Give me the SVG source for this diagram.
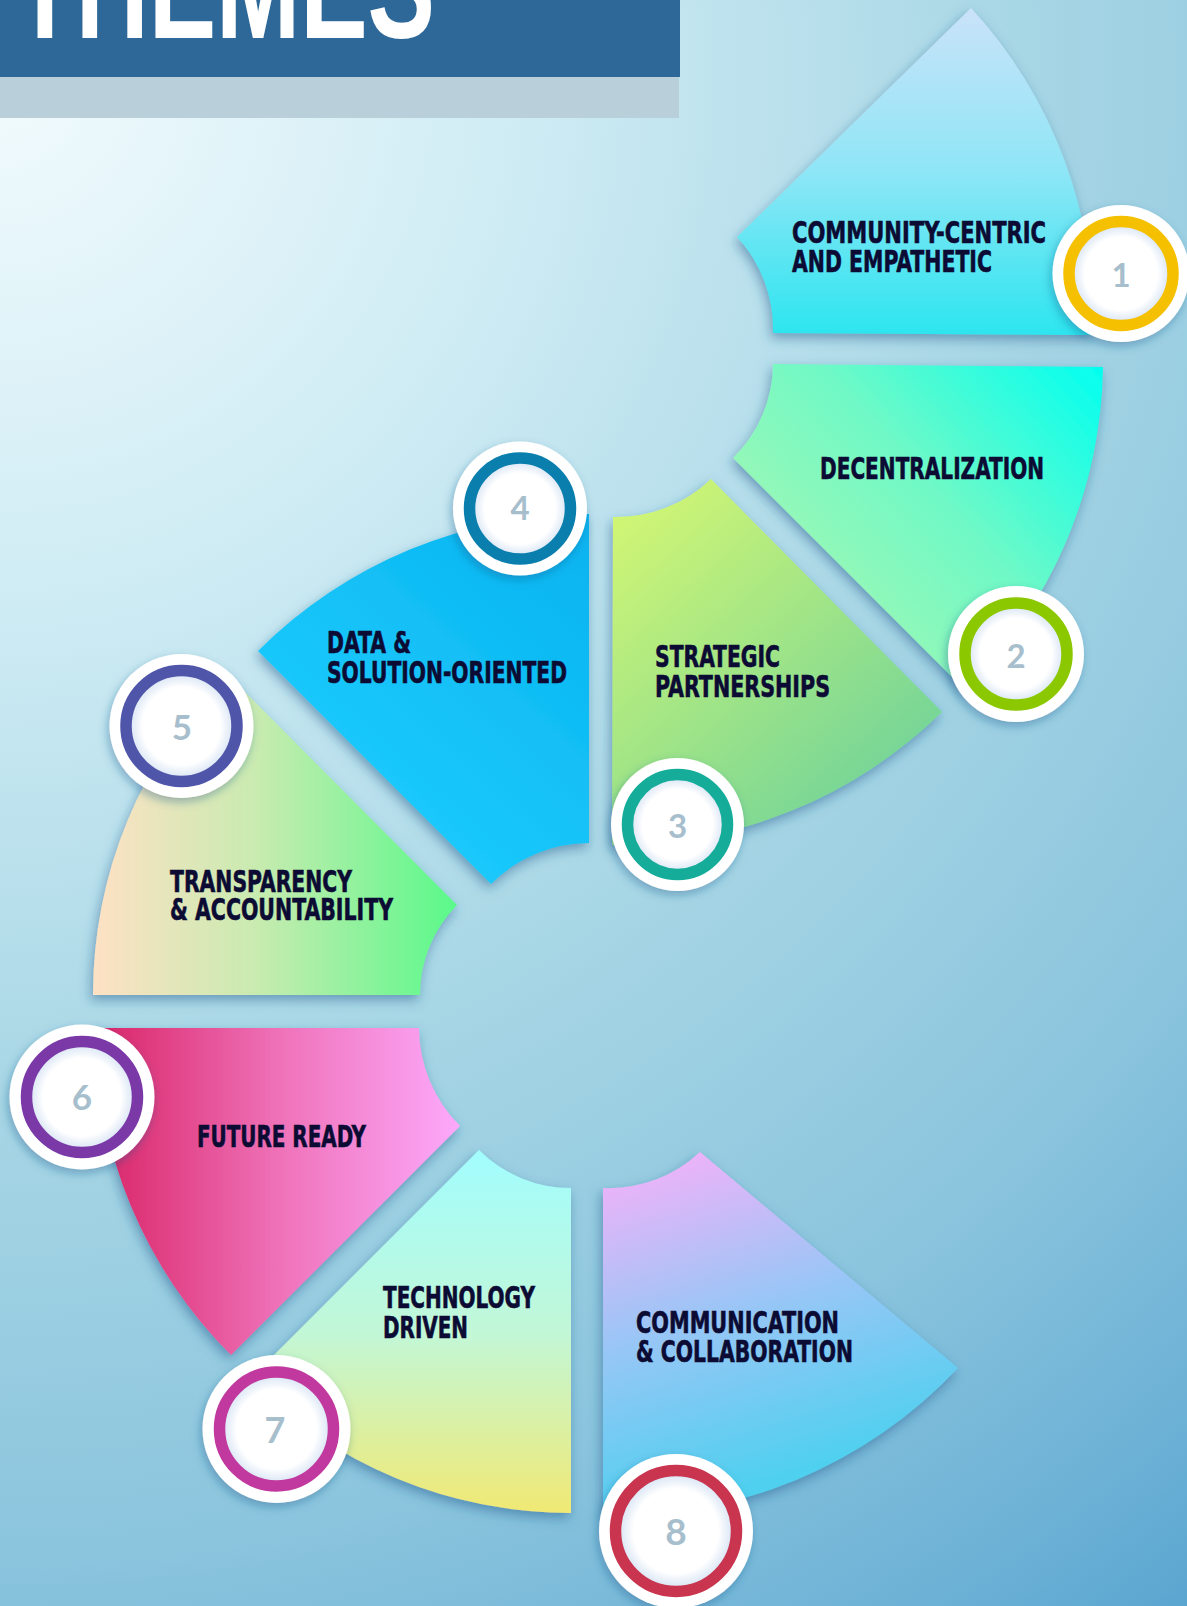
<svg xmlns="http://www.w3.org/2000/svg" width="1187" height="1606" viewBox="0 0 1187 1606">
<defs>
  <radialGradient id="bg" cx="0" cy="80" r="2060" gradientUnits="userSpaceOnUse">
    <stop offset="0" stop-color="#f2fbfd"/>
    <stop offset="0.25" stop-color="#cfecf4"/>
    <stop offset="0.5" stop-color="#a7d6e5"/>
    <stop offset="0.72" stop-color="#8ac4dd"/>
    <stop offset="0.88" stop-color="#69afd5"/>
    <stop offset="1" stop-color="#4a9bcb"/>
  </radialGradient>
  <linearGradient id="g1" x1="0" y1="8" x2="0" y2="335" gradientUnits="userSpaceOnUse">
    <stop offset="0" stop-color="#cae2f9"/>
    <stop offset="0.5" stop-color="#8ee6f6"/>
    <stop offset="1" stop-color="#2ce5ef"/>
  </linearGradient>
  <linearGradient id="g2" x1="790" y1="640" x2="1100" y2="365" gradientUnits="userSpaceOnUse">
    <stop offset="0" stop-color="#a8f7b0"/>
    <stop offset="0.5" stop-color="#6ff9c6"/>
    <stop offset="1" stop-color="#02fff0"/>
  </linearGradient>
  <linearGradient id="g3" x1="615" y1="480" x2="900" y2="800" gradientUnits="userSpaceOnUse">
    <stop offset="0" stop-color="#d8f871"/>
    <stop offset="1" stop-color="#6fd39a"/>
  </linearGradient>
  <linearGradient id="g4" x1="590" y1="520" x2="320" y2="820" gradientUnits="userSpaceOnUse">
    <stop offset="0" stop-color="#08b3ef"/>
    <stop offset="1" stop-color="#1ecdfe"/>
  </linearGradient>
  <linearGradient id="g5" x1="92" y1="0" x2="460" y2="0" gradientUnits="userSpaceOnUse">
    <stop offset="0" stop-color="#fee1c4"/>
    <stop offset="0.45" stop-color="#c8ebb0"/>
    <stop offset="1" stop-color="#58f98a"/>
  </linearGradient>
  <linearGradient id="g6" x1="100" y1="0" x2="460" y2="0" gradientUnits="userSpaceOnUse">
    <stop offset="0" stop-color="#d92668"/>
    <stop offset="0.5" stop-color="#ef72b9"/>
    <stop offset="1" stop-color="#fda9fb"/>
  </linearGradient>
  <linearGradient id="g7" x1="0" y1="1150" x2="0" y2="1515" gradientUnits="userSpaceOnUse">
    <stop offset="0" stop-color="#a2fdfe"/>
    <stop offset="0.5" stop-color="#c2f7d7"/>
    <stop offset="1" stop-color="#f1e973"/>
  </linearGradient>
  <linearGradient id="g8" x1="640" y1="1160" x2="740" y2="1490" gradientUnits="userSpaceOnUse">
    <stop offset="0" stop-color="#f1b2f9"/>
    <stop offset="0.5" stop-color="#98c6f6"/>
    <stop offset="1" stop-color="#4fd0ef"/>
  </linearGradient>
  <radialGradient id="inner" cx="0.5" cy="0.5" r="0.5">
    <stop offset="0" stop-color="#ffffff"/>
    <stop offset="0.7" stop-color="#ffffff"/>
    <stop offset="1" stop-color="#cfdef2"/>
  </radialGradient>
  <filter id="sh" x="-20%" y="-20%" width="140%" height="140%">
    <feDropShadow dx="-2" dy="5" stdDeviation="6" flood-color="#1c5a8c" flood-opacity="0.5"/>
  </filter>
  <filter id="csh" x="-30%" y="-30%" width="160%" height="160%">
    <feDropShadow dx="-2" dy="4" stdDeviation="5" flood-color="#1c5a8c" flood-opacity="0.4"/>
  </filter>
  <style>
    .lbl { font-family: 'Liberation Sans Narrow', 'DejaVu Sans Condensed', 'Liberation Sans', sans-serif; font-weight: bold; font-size: 31px; fill: #0b0b33; stroke: #0b0b33; stroke-width: 0.6px; }
    .num { font-family: Lato, 'Open Sans', 'Liberation Sans', sans-serif; font-weight: bold; fill: #a7becd; text-anchor: middle; }
    .outer { fill: #ffffff; filter: url(#csh); }
    .ring { fill: url(#inner); stroke-width: 11.5; }
    .petal { filter: url(#sh); }
  </style>
</defs>

<rect x="0" y="0" width="1187" height="1606" fill="url(#bg)"/>

<g id="header">
  <rect x="0" y="77" width="679" height="41" fill="#b9cfd9"/>
  <rect x="0" y="0" width="680" height="77" fill="#2e6898"/>
  <text x="14" y="38" font-family="'Liberation Sans Narrow','Liberation Sans',sans-serif" font-weight="bold" font-size="150" fill="#ffffff" textLength="421" lengthAdjust="spacingAndGlyphs">THEMES</text>
</g>

<g id="connectors"/>

<g id="node1">
  <path class="petal" fill="url(#g1)" d="M737,237 L971,8 A460 460 0 0 1 1093,335 L773,333 A135 135 0 0 0 737,237 Z"/>
  <text class="lbl" x="792" y="243" textLength="254" lengthAdjust="spacingAndGlyphs">COMMUNITY-CENTRIC</text>
  <text class="lbl" x="792" y="272" textLength="200" lengthAdjust="spacingAndGlyphs">AND EMPATHETIC</text>
  <circle class="outer" cx="1121" cy="273.5" r="68.5"/>
  <circle class="ring" cx="1121" cy="273.5" r="52" stroke="#f5c000"/>
  <text class="num" x="1121" y="287" font-size="33">1</text>
</g>

<g id="node2">
  <path class="petal" fill="url(#g2)" d="M773,364 L1103,367 A462 462 0 0 1 965,690 L733,458 A133 133 0 0 0 773,364 Z"/>
  <text class="lbl" x="820" y="479" textLength="224" lengthAdjust="spacingAndGlyphs">DECENTRALIZATION</text>
  <circle class="outer" cx="1016" cy="654" r="68"/>
  <circle class="ring" cx="1016" cy="654" r="51" stroke="#8cc800"/>
  <text class="num" x="1016" y="668" font-size="33">2</text>
</g>

<g id="node3">
  <path class="petal" fill="url(#g3)" d="M613,517 A136 136 0 0 0 711,479 L942,712 A465 465 0 0 1 612,845 Z"/>
  <text class="lbl" x="655" y="667" textLength="125" lengthAdjust="spacingAndGlyphs">STRATEGIC</text>
  <text class="lbl" x="655" y="697" textLength="175" lengthAdjust="spacingAndGlyphs">PARTNERSHIPS</text>
  <circle class="outer" cx="677.5" cy="824.5" r="66.5"/>
  <circle class="ring" cx="677.5" cy="824.5" r="50" stroke="#15ad9a"/>
  <text class="num" x="677.5" y="838" font-size="33">3</text>
</g>

<g id="node4">
  <path class="petal" fill="url(#g4)" d="M258,651 A468 468 0 0 1 589,514 L589,843 A139 139 0 0 0 491,884 Z"/>
  <text class="lbl" x="327" y="653" textLength="84" lengthAdjust="spacingAndGlyphs">DATA &amp;</text>
  <text class="lbl" x="327" y="683" textLength="240" lengthAdjust="spacingAndGlyphs">SOLUTION-ORIENTED</text>
  <circle class="outer" cx="520" cy="508.5" r="67"/>
  <circle class="ring" cx="520" cy="508.5" r="50.5" stroke="#0a7fae"/>
  <text class="num" x="520" y="520" font-size="33">4</text>
</g>

<g id="node5">
  <path class="petal" fill="url(#g5)" d="M93,995 A455 455 0 0 1 226,673 L457,905 A128 128 0 0 0 420,995 Z"/>
  <text class="lbl" x="170" y="892" textLength="182" lengthAdjust="spacingAndGlyphs">TRANSPARENCY</text>
  <text class="lbl" x="170" y="920" textLength="223" lengthAdjust="spacingAndGlyphs">&amp; ACCOUNTABILITY</text>
  <circle class="outer" cx="181.5" cy="726" r="72"/>
  <circle class="ring" cx="181.5" cy="726" r="55.5" stroke="#4f55a8"/>
  <text class="num" x="182" y="740" font-size="35">5</text>
</g>

<g id="node6">
  <path class="petal" fill="url(#g6)" d="M95,1028 L419,1028 A139 139 0 0 0 460,1126 L231,1355 A463 463 0 0 1 95,1028 Z"/>
  <text class="lbl" x="197" y="1147" textLength="169" lengthAdjust="spacingAndGlyphs">FUTURE READY</text>
  <circle class="outer" cx="82" cy="1097" r="72.5"/>
  <circle class="ring" cx="82" cy="1097" r="55.5" stroke="#7b39a8"/>
  <text class="num" x="82" y="1110" font-size="35">6</text>
</g>

<g id="node7">
  <path class="petal" fill="url(#g7)" d="M571,1188 L571,1513 A455 455 0 0 1 249,1380 L479,1150 A130 130 0 0 0 571,1188 Z"/>
  <text class="lbl" x="383" y="1308" textLength="152" lengthAdjust="spacingAndGlyphs">TECHNOLOGY</text>
  <text class="lbl" x="383" y="1338" textLength="85" lengthAdjust="spacingAndGlyphs">DRIVEN</text>
  <circle class="outer" cx="276.5" cy="1429" r="74"/>
  <circle class="ring" cx="276.5" cy="1429" r="57" stroke="#c1399e"/>
  <text class="num" x="275" y="1443" font-size="36">7</text>
</g>

<g id="node8">
  <path class="petal" fill="url(#g8)" d="M603,1188 A133 133 0 0 0 700,1152 L958,1368 A465 465 0 0 1 603,1515 Z"/>
  <text class="lbl" x="636" y="1333" textLength="203" lengthAdjust="spacingAndGlyphs">COMMUNICATION</text>
  <text class="lbl" x="636" y="1362" textLength="217" lengthAdjust="spacingAndGlyphs">&amp; COLLABORATION</text>
  <circle class="outer" cx="676" cy="1531" r="77"/>
  <circle class="ring" cx="676" cy="1531" r="60.5" stroke="#c9344f"/>
  <text class="num" x="676" y="1545" font-size="37">8</text>
</g>
</svg>
